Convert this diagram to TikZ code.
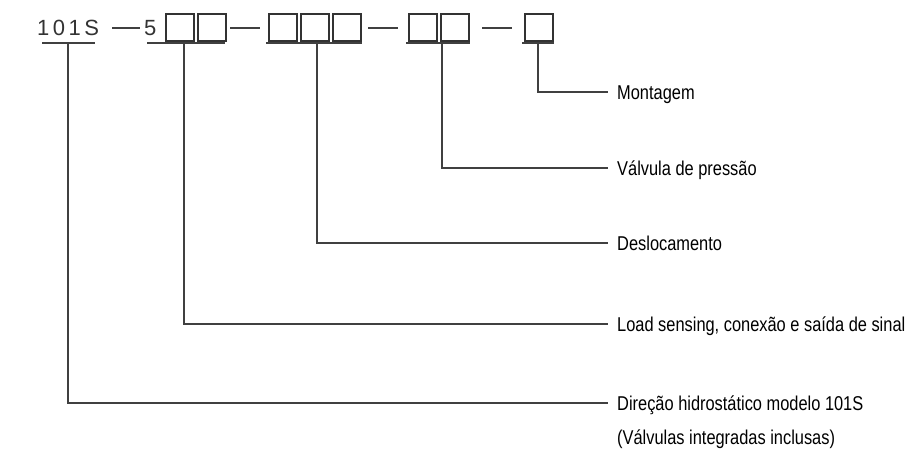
\documentclass[tikz,border=0pt]{standalone}
\usepackage{fontspec}
\setmainfont{Liberation Sans}[FakeStretch=0.82]
\newfontfamily\topfont{Liberation Sans}
\begin{document}
\begin{tikzpicture}[x=1pt,y=-1pt,
  cell/.style={draw=black!80,line width=1.5pt,minimum width=28pt,minimum height=27pt,inner sep=0pt,anchor=north west},
  rulebar/.style={draw=black!75,line width=1.4pt},
  sepdash/.style={draw=black!75,line width=1.4pt},
  lead/.style={draw=black!75,line width=1.5pt},
  lbl/.style={anchor=west,inner xsep=9pt,inner ysep=0pt,text height=14pt,text depth=0pt,font=\fontsize{20}{23}\selectfont,text=black},
  code/.style={anchor=base west,inner sep=0pt,font=\topfont\fontsize{22}{24}\selectfont,text=black!80}]
\useasboundingbox (0,0) rectangle (912,450);
\fill[white] (0,0) rectangle (912,450);

% code row
\node[code] (c101) at (37,35) {1\hspace{3.5pt}0\hspace{3.5pt}1\hspace{3.5pt}S};
\node[code] (c5) at (144,35) {5};
\node[cell] (A1) at (165,13) {};
\node[cell] (A2) at (197,13) {};
\node[cell] (B1) at (268,13) {};
\node[cell] (B2) at (300,13) {};
\node[cell] (B3) at (332,13) {};
\node[cell] (C1) at (408,13) {};
\node[cell] (C2) at (440,13) {};
\node[cell] (D1) at (524,13) {};

% separators
\draw[sepdash] (112,28) -- (140,28);
\draw[sepdash] (230,28) -- (260,28);
\draw[sepdash] (368,28) -- (398,28);
\draw[sepdash] (482,28) -- (512,28);

% underlines
\draw[rulebar] (42,43) -- (95,43);
\draw[rulebar] (147,43) -- (225,43);
\draw[rulebar] (266,43) -- (362,43);
\draw[rulebar] (406,43) -- (470,43);
\draw[rulebar] (522,43) -- (554,43);
\coordinate (t0) at (68,43);
\coordinate (tA) at (184,43);
\coordinate (tB) at (317,43);
\coordinate (tC) at (442,43);
\coordinate (tD) at (538,43);

% labels
\node[lbl] (lMont) at (608,92) {Montagem};
\node[lbl] (lValv) at (608,168) {Válvula de pressão};
\node[lbl] (lDesl) at (608,243) {Deslocamento};
\node[lbl] (lLoad) at (608,324) {Load sensing, conexão e saída de sinal};
\node[lbl] (lDir) at (608,403) {Direção hidrostático modelo 101S};
\node[lbl] (lDir2) at (608,437) {(Válvulas integradas inclusas)};

% leaders
\draw[lead] (tD) |- (lMont.west);
\draw[lead] (tC) |- (lValv.west);
\draw[lead] (tB) |- (lDesl.west);
\draw[lead] (tA) |- (lLoad.west);
\draw[lead] (t0) |- (lDir.west);
\end{tikzpicture}
\end{document}
